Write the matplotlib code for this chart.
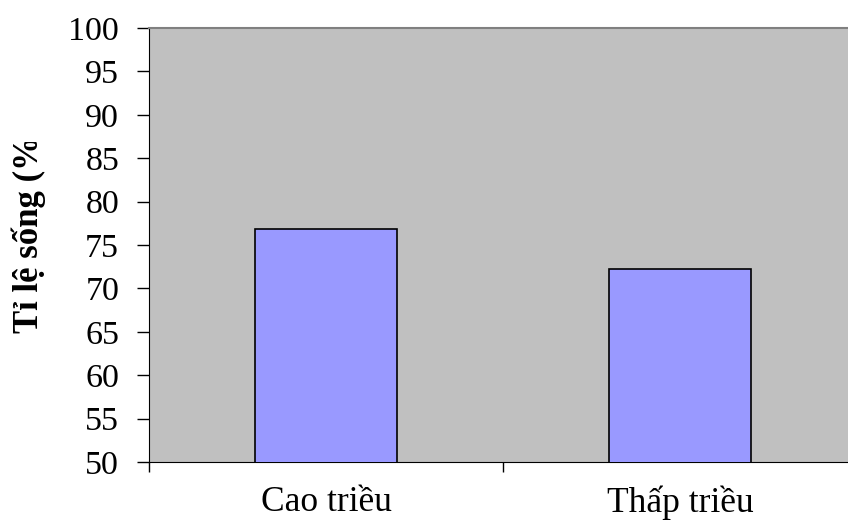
import numpy as np
import matplotlib.pyplot as plt
from matplotlib.transforms import Bbox

# survival rate by tide level
categories = ['Cao triều', 'Thấp triều']
survival = [76.9, 72.2]
y_ticks = [50, 55, 60, 65, 70, 75, 80, 85, 90, 95, 100]

plt.rcParams['font.family'] = ['Liberation Serif', 'DejaVu Serif']

fig = plt.figure(figsize=(8.48, 5.27), dpi=100)
fig.patch.set_facecolor('white')

# plot area runs a little past the right edge of the figure
ax = fig.add_axes([149 / 848, 65 / 527, 708 / 848, 434 / 527])
ax.set_facecolor('#C0C0C0')

x = np.arange(len(categories))
ax.bar(x, survival, width=0.40, color='#9999FF', edgecolor='black', linewidth=1.2, zorder=3)

ax.set_xlim(-0.5, len(categories) - 0.5)
ax.set_ylim(50, 100)

ax.set_yticks(y_ticks)
ax.tick_params(axis='y', direction='out', length=8.5, width=1, pad=13, labelsize=24.5)

# ticks at category boundaries, labels at centers
ax.set_xticks(np.arange(len(categories) + 1) - 0.5)
ax.set_xticklabels([])
ax.set_xticks(x, minor=True)
ax.set_xticklabels(categories, minor=True, fontsize=25.5)
ax.tick_params(axis='x', which='major', direction='out', length=7, width=1)
ax.tick_params(axis='x', which='minor', length=0, pad=17)

ax.spines['left'].set_color('black')
ax.spines['bottom'].set_color('black')
ax.spines['top'].set_color('#808080')
ax.spines['top'].set_linewidth(1.5)
ax.spines['right'].set_visible(False)

ylab = fig.text(29 / 848, (527 - 333) / 527, 'Tỉ lệ sống (%', rotation=90,
                ha='center', va='bottom', fontsize=25, fontweight='bold')
# the label box is cut off just above the percent sign
ylab.set_clip_box(Bbox([[0, 0], [848, 527 - 142]]))
ylab.set_clip_on(True)

fig.savefig('out.png', dpi=100)
